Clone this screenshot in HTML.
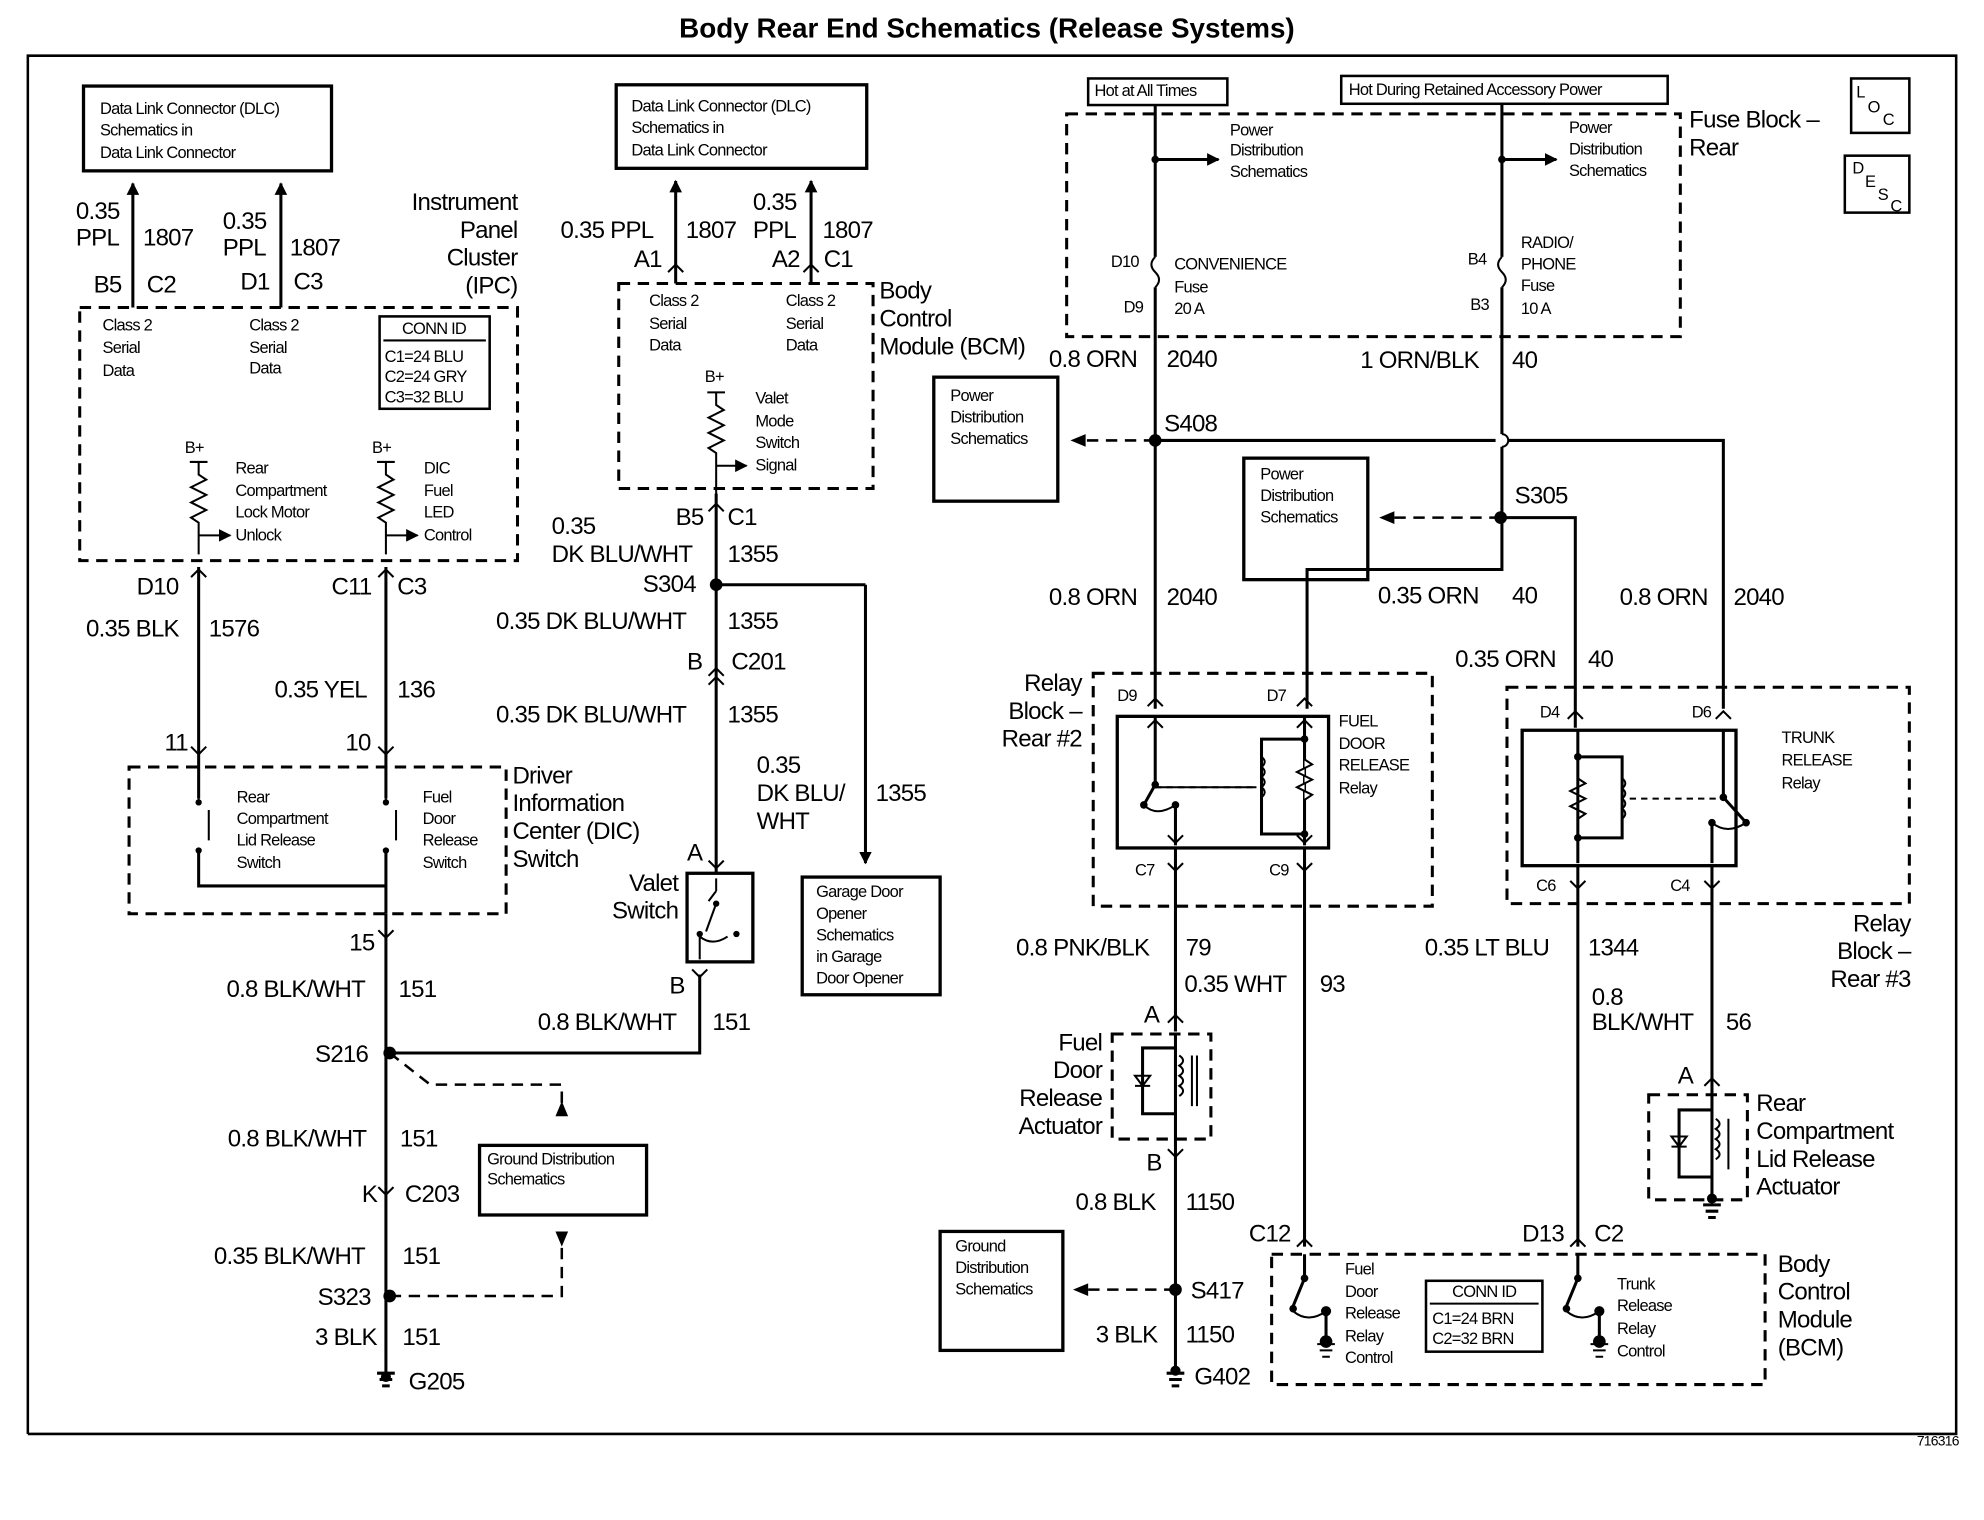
<!DOCTYPE html>
<html><head><meta charset="utf-8"><style>
html,body{margin:0;padding:0;background:#fff}
svg{display:block}
text{font-family:"Liberation Sans",sans-serif;fill:#000;dominant-baseline:central}
.L{font-size:19px;letter-spacing:-0.6px}
.S{font-size:13px;letter-spacing:-0.6px}
.r{text-anchor:end}
.ln{stroke:#000;stroke-width:2.4;fill:none}
.th{stroke:#000;stroke-width:1.6;fill:none}
.da{stroke:#000;stroke-width:2.4;fill:none;stroke-dasharray:9,6}
.box{stroke:#000;stroke-width:2.6;fill:none}
</style></head><body>
<svg width="1984" height="1520" viewBox="0 0 1568 1201" preserveAspectRatio="none" xmlns="http://www.w3.org/2000/svg">
<defs>
<marker id="ar" markerWidth="10" markerHeight="10" refX="9" refY="5" orient="auto" markerUnits="userSpaceOnUse"><path d="M0,0 L10,5 L0,10 z" fill="#000"/></marker>
<marker id="op" markerWidth="12" markerHeight="12" refX="6" refY="1" orient="auto-start-reverse" markerUnits="userSpaceOnUse"><path d="M1,9 L6,1 L11,9" fill="none" stroke="#000" stroke-width="1.6"/></marker>
</defs>
<rect width="1568" height="1201" fill="#fff"/>
<text x="780" y="22" style="font-size:22px;font-weight:bold;text-anchor:middle">Body Rear End Schematics (Release Systems)</text>
<polyline class="th" points="22,1133 22,44 1546,44 1546,1133 22,1133" style="stroke-width:2"/>
<text x="1548" y="1138" class="S r" style="font-size:11px">716316</text>

<!-- LEFT DLC -->
<rect x="66" y="68" width="196" height="67" class="box"/>
<text x="79" y="86" class="S">Data Link Connector (DLC)</text>
<text x="79" y="103" class="S">Schematics in</text>
<text x="79" y="121" class="S">Data Link Connector</text>
<line x1="105" y1="243" x2="105" y2="145" class="ln" marker-end="url(#ar)"/>
<line x1="222" y1="243" x2="222" y2="145" class="ln" marker-end="url(#ar)"/>
<text x="60" y="167" class="L">0.35</text><text x="60" y="188" class="L">PPL</text><text x="113" y="188" class="L">1807</text>
<text x="176" y="175" class="L">0.35</text><text x="176" y="196" class="L">PPL</text><text x="229" y="196" class="L">1807</text>
<text x="74" y="225" class="L">B5</text><text x="116" y="225" class="L">C2</text>
<text x="190" y="223" class="L">D1</text><text x="232" y="223" class="L">C3</text>
<text x="409" y="160" class="L r">Instrument</text><text x="409" y="182" class="L r">Panel</text><text x="409" y="204" class="L r">Cluster</text><text x="409" y="226" class="L r">(IPC)</text>
<rect x="63" y="243" width="346" height="200" class="da"/>
<text x="81" y="257" class="S">Class 2</text><text x="81" y="275" class="S">Serial</text><text x="81" y="293" class="S">Data</text>
<text x="197" y="257" class="S">Class 2</text><text x="197" y="275" class="S">Serial</text><text x="197" y="291" class="S">Data</text>
<rect x="300" y="250" width="87" height="73" class="box" style="stroke-width:2"/>
<text x="343" y="260" class="S" style="text-anchor:middle">CONN ID</text><line x1="303" y1="269" x2="384" y2="269" class="th"/>
<text x="304" y="282" class="S">C1=24 BLU</text><text x="304" y="298" class="S">C2=24 GRY</text><text x="304" y="314" class="S">C3=32 BLU</text>
<text x="146" y="354" class="S">B+</text><text x="294" y="354" class="S">B+</text>
<path class="th" d="M150,365 h14 M157,365 v10 l6,4 -12,6 12,6 -12,6 12,6 -12,6 6,4 v25"/>
<path class="th" d="M298,365 h14 M305,365 v10 l6,4 -12,6 12,6 -12,6 12,6 -12,6 6,4 v25"/>
<line x1="157" y1="423" x2="182" y2="423" class="th" marker-end="url(#ar)"/>
<line x1="305" y1="423" x2="330" y2="423" class="th" marker-end="url(#ar)"/>
<text x="186" y="370" class="S">Rear</text><text x="186" y="388" class="S">Compartment</text><text x="186" y="405" class="S">Lock Motor</text><text x="186" y="423" class="S">Unlock</text>
<text x="335" y="370" class="S">DIC</text><text x="335" y="388" class="S">Fuel</text><text x="335" y="405" class="S">LED</text><text x="335" y="423" class="S">Control</text>
<line x1="157" y1="448" x2="157" y2="606" class="ln"/><line x1="305" y1="448" x2="305" y2="606" class="ln"/>
<path class="th" d="M151,456 l6,-6 6,6 M299,456 l6,-6 6,6 M151,590 l6,6 6,-6 M299,590 l6,6 6,-6"/>
<text x="108" y="464" class="L">D10</text><text x="262" y="464" class="L">C11</text><text x="314" y="464" class="L">C3</text>
<text x="68" y="497" class="L">0.35 BLK</text><text x="165" y="497" class="L">1576</text>
<text x="217" y="545" class="L">0.35 YEL</text><text x="314" y="545" class="L">136</text>
<text x="130" y="587" class="L">11</text><text x="273" y="587" class="L">10</text>
<rect x="102" y="606" width="298" height="116" class="da"/>
<path class="ln" d="M157,606 v25 M157,672 v28 h148 v-28 M305,606 v25 M305,700 v22"/>
<path class="th" d="M165,640 v24 M313,640 v24 M157,631 v3 M305,631 v3"/>
<circle cx="157" cy="634" r="2.5"/><circle cx="157" cy="672" r="2.5"/><circle cx="305" cy="634" r="2.5"/><circle cx="305" cy="672" r="2.5"/>
<text x="187" y="630" class="S">Rear</text><text x="187" y="647" class="S">Compartment</text><text x="187" y="664" class="S">Lid Release</text><text x="187" y="682" class="S">Switch</text>
<text x="334" y="630" class="S">Fuel</text><text x="334" y="647" class="S">Door</text><text x="334" y="664" class="S">Release</text><text x="334" y="682" class="S">Switch</text>
<text x="405" y="613" class="L">Driver</text><text x="405" y="635" class="L">Information</text><text x="405" y="657" class="L">Center (DIC)</text><text x="405" y="679" class="L">Switch</text>
<line x1="305" y1="722" x2="305" y2="1085" class="ln"/>
<path class="th" d="M299,735 l6,6 6,-6 M299,938 l6,6 6,-6"/>
<text x="276" y="745" class="L">15</text>
<text x="179" y="782" class="L">0.8 BLK/WHT</text><text x="315" y="782" class="L">151</text>
<text x="249" y="833" class="L">S216</text><circle cx="308" cy="832" r="5"/>
<text x="180" y="900" class="L">0.8 BLK/WHT</text><text x="316" y="900" class="L">151</text>
<text x="286" y="944" class="L">K</text><text x="320" y="944" class="L">C203</text>
<text x="169" y="993" class="L">0.35 BLK/WHT</text><text x="318" y="993" class="L">151</text>
<text x="251" y="1025" class="L">S323</text><circle cx="308" cy="1024" r="5"/>
<text x="249" y="1057" class="L">3 BLK</text><text x="318" y="1057" class="L">151</text>
<path class="ln" d="M298,1085 h14 M300,1090 h10 M302,1095 h6"/><circle cx="305" cy="1088" r="4"/>
<text x="323" y="1092" class="L">G205</text>
<path class="ln" d="M308,832 H553 V770"/>
<path class="da" d="M308,832 L340,857 H444 V880" style="stroke-width:2"/>
<path d="M439,882 l5,-12 5,12z"/>
<rect x="379" y="905" width="132" height="55" class="box"/>
<text x="385" y="916" class="S">Ground Distribution</text><text x="385" y="932" class="S">Schematics</text>
<path class="da" d="M308,1024 H444 V985" style="stroke-width:2"/>
<path d="M439,973 l5,12 5,-12z"/>

<!-- MIDDLE -->
<rect x="487" y="67" width="198" height="66" class="box"/>
<text x="499" y="84" class="S">Data Link Connector (DLC)</text><text x="499" y="101" class="S">Schematics in</text><text x="499" y="119" class="S">Data Link Connector</text>
<line x1="534" y1="224" x2="534" y2="143" class="ln" marker-end="url(#ar)"/>
<line x1="641" y1="224" x2="641" y2="143" class="ln" marker-end="url(#ar)"/>
<path class="th" d="M528,215 l6,-6 6,6 M635,215 l6,-6 6,6"/>
<text x="443" y="182" class="L">0.35 PPL</text><text x="542" y="182" class="L">1807</text>
<text x="595" y="160" class="L">0.35</text><text x="595" y="182" class="L">PPL</text><text x="650" y="182" class="L">1807</text>
<text x="501" y="205" class="L">A1</text><text x="610" y="205" class="L">A2</text><text x="651" y="205" class="L">C1</text>
<rect x="489" y="224" width="201" height="162" class="da"/>
<text x="695" y="230" class="L">Body</text><text x="695" y="252" class="L">Control</text><text x="695" y="274" class="L">Module (BCM)</text>
<text x="513" y="238" class="S">Class 2</text><text x="513" y="256" class="S">Serial</text><text x="513" y="273" class="S">Data</text>
<text x="621" y="238" class="S">Class 2</text><text x="621" y="256" class="S">Serial</text><text x="621" y="273" class="S">Data</text>
<text x="557" y="298" class="S">B+</text>
<path class="th" d="M559,310 h14 M566,310 v10 l6,4 -12,6 12,6 -12,6 12,6 -12,6 6,4 v40"/>
<line x1="566" y1="368" x2="590" y2="368" class="th" marker-end="url(#ar)"/>
<text x="597" y="315" class="S">Valet</text><text x="597" y="333" class="S">Mode</text><text x="597" y="350" class="S">Switch</text><text x="597" y="368" class="S">Signal</text>
<line x1="566" y1="390" x2="566" y2="690" class="ln"/>
<path class="th" d="M560,404 l6,-6 6,6 M560,534 l6,-6 6,6 M560,541 l6,-6 6,6 M560,680 l6,6 6,-6"/>
<text x="436" y="416" class="L">0.35</text><text x="436" y="438" class="L">DK BLU/WHT</text>
<text x="534" y="409" class="L">B5</text><text x="575" y="409" class="L">C1</text><text x="575" y="438" class="L">1355</text>
<text x="508" y="462" class="L">S304</text><circle cx="566" cy="462" r="5"/>
<line x1="566" y1="462" x2="684" y2="462" class="ln"/><line x1="684" y1="462" x2="684" y2="682" class="ln" marker-end="url(#ar)"/>
<text x="392" y="491" class="L">0.35 DK BLU/WHT</text><text x="575" y="491" class="L">1355</text>
<text x="543" y="523" class="L">B</text><text x="578" y="523" class="L">C201</text>
<text x="392" y="565" class="L">0.35 DK BLU/WHT</text><text x="575" y="565" class="L">1355</text>
<text x="598" y="605" class="L">0.35</text><text x="598" y="627" class="L">DK BLU/</text><text x="598" y="649" class="L">WHT</text><text x="692" y="627" class="L">1355</text>
<rect x="543" y="690" width="52" height="70" class="box"/>
<path class="th" d="M566,694 v10 M560,712 l6,-8 M566,714 l-8,22 M553,738 v20 M553,740 q10,8 22,0"/>
<circle cx="566" cy="714" r="2.5"/><circle cx="553" cy="738" r="2.5"/><circle cx="582" cy="738" r="2.5"/>
<path class="th" d="M547,766 l6,6 6,-6"/>
<text x="536" y="698" class="L r">Valet</text><text x="536" y="720" class="L r">Switch</text>
<text x="543" y="674" class="L">A</text><text x="529" y="779" class="L">B</text>
<text x="425" y="808" class="L">0.8 BLK/WHT</text><text x="563" y="808" class="L">151</text>
<rect x="634" y="693" width="109" height="93" class="box"/>
<text x="645" y="705" class="S">Garage Door</text><text x="645" y="722" class="S">Opener</text><text x="645" y="739" class="S">Schematics</text><text x="645" y="756" class="S">in Garage</text><text x="645" y="773" class="S">Door Opener</text>

<!-- RIGHT TOP -->
<rect x="860" y="62" width="110" height="21" class="box" style="stroke-width:2"/><text x="865" y="72" class="S">Hot at All Times</text>
<rect x="1060" y="60" width="258" height="22" class="box" style="stroke-width:2"/><text x="1066" y="71" class="S">Hot During Retained Accessory Power</text>
<rect x="843" y="90" width="485" height="176" class="da"/>
<text x="1335" y="95" class="L">Fuse Block –</text><text x="1335" y="117" class="L">Rear</text>
<rect x="1463" y="62" width="46" height="43" class="box" style="stroke-width:2"/>
<text x="1467" y="73" class="S">L</text><text x="1476" y="85" class="S">O</text><text x="1488" y="95" class="S">C</text>
<rect x="1458" y="123" width="51" height="45" class="box" style="stroke-width:2"/>
<text x="1464" y="133" class="S">D</text><text x="1474" y="144" class="S">E</text><text x="1484" y="154" class="S">S</text><text x="1494" y="163" class="S">C</text>
<path class="ln" d="M913,83 V203 M913,227 V560"/>
<path class="th" d="M913,203 q-6,6 0,12 q6,6 0,12"/>
<path class="ln" d="M1187,82 V203 M1187,227 V343 M1187,353 V408"/>
<path class="th" d="M1187,203 q-6,6 0,12 q6,6 0,12 M1187,343 a5,5 0 0 1 0,10"/>
<circle cx="913" cy="126" r="3"/><circle cx="1187" cy="126" r="3"/>
<line x1="913" y1="126" x2="963" y2="126" class="ln" marker-end="url(#ar)"/>
<line x1="1187" y1="126" x2="1230" y2="126" class="ln" marker-end="url(#ar)"/>
<text x="972" y="103" class="S">Power</text><text x="972" y="119" class="S">Distribution</text><text x="972" y="136" class="S">Schematics</text>
<text x="1240" y="101" class="S">Power</text><text x="1240" y="118" class="S">Distribution</text><text x="1240" y="135" class="S">Schematics</text>
<text x="878" y="207" class="S">D10</text><text x="888" y="243" class="S">D9</text>
<text x="928" y="209" class="S">CONVENIENCE</text><text x="928" y="227" class="S">Fuse</text><text x="928" y="244" class="S">20 A</text>
<text x="1160" y="205" class="S">B4</text><text x="1162" y="241" class="S">B3</text>
<text x="1202" y="192" class="S">RADIO/</text><text x="1202" y="209" class="S">PHONE</text><text x="1202" y="226" class="S">Fuse</text><text x="1202" y="244" class="S">10 A</text>
<text x="829" y="284" class="L">0.8 ORN</text><text x="922" y="284" class="L">2040</text>
<text x="1075" y="285" class="L">1 ORN/BLK</text><text x="1195" y="285" class="L">40</text>
<text x="920" y="335" class="L">S408</text><circle cx="913" cy="348" r="5"/>
<path class="ln" d="M913,348 H1182 M1192,348 H1362 V560"/>
<path class="da" d="M913,348 H858" style="stroke-width:2"/><path d="M846,348 l12,-5 v10z"/>
<rect x="738" y="298" width="98" height="98" class="box"/>
<text x="751" y="313" class="S">Power</text><text x="751" y="330" class="S">Distribution</text><text x="751" y="347" class="S">Schematics</text>
<rect x="983" y="362" width="98" height="96" class="box"/>
<text x="996" y="375" class="S">Power</text><text x="996" y="392" class="S">Distribution</text><text x="996" y="409" class="S">Schematics</text>
<text x="1197" y="392" class="L">S305</text><circle cx="1186" cy="409" r="5"/>
<path class="da" d="M1186,409 H1102" style="stroke-width:2"/><path d="M1090,409 l12,-5 v10z"/>
<path class="ln" d="M1186,409 H1245 V575 M1187,409 V450 H1033 V560"/>
<text x="829" y="472" class="L">0.8 ORN</text><text x="922" y="472" class="L">2040</text>
<text x="1089" y="471" class="L">0.35 ORN</text><text x="1195" y="471" class="L">40</text>
<text x="1280" y="472" class="L">0.8 ORN</text><text x="1370" y="472" class="L">2040</text>
<text x="1150" y="521" class="L">0.35 ORN</text><text x="1255" y="521" class="L">40</text>

<!-- Relay block 2 -->
<rect x="864" y="532" width="268" height="184" class="da"/>
<text x="855" y="540" class="L r">Relay</text><text x="855" y="562" class="L r">Block –</text><text x="855" y="584" class="L r">Rear #2</text>
<rect x="883" y="566" width="167" height="104" class="box"/>
<path class="th" d="M907,558 l6,-6 6,6 M1025,558 l6,-6 6,6 M923,682 l6,6 6,-6 M1025,682 l6,6 6,-6"/>
<path class="ln" d="M913,566 V620 M913,620 L904,636 M929,636 V668 M1031,566 V668 M1031,584 H997 V659 H1031"/>
<path class="th" d="M907,575 l6,-6 6,6 M1025,575 l6,-6 6,6 M923,660 l6,6 6,-6 M1025,660 l6,6 6,-6 M913,622 H993 M904,636 q10,10 25,0"/>
<path class="th" style="stroke-dasharray:5,4" d="M913,622 H993"/>
<path class="th" d="M997,598 q5,4 0,8 q5,4 0,8 q5,4 0,8 q5,4 0,8"/>
<path class="th" d="M1031,600 l6,4 -12,6 12,6 -12,6 12,6 -6,4" style="fill:#fff"/>
<circle cx="913" cy="620" r="3"/><circle cx="904" cy="636" r="3"/><circle cx="929" cy="636" r="3"/><circle cx="1031" cy="584" r="3"/><circle cx="1031" cy="659" r="3"/>
<text x="883" y="550" class="S">D9</text><text x="1001" y="550" class="S">D7</text>
<text x="897" y="688" class="S">C7</text><text x="1003" y="688" class="S">C9</text>
<text x="1058" y="570" class="S">FUEL</text><text x="1058" y="588" class="S">DOOR</text><text x="1058" y="605" class="S">RELEASE</text><text x="1058" y="623" class="S">Relay</text>

<!-- Relay block 3 -->
<rect x="1191" y="543" width="318" height="171" class="da"/>
<rect x="1203" y="577" width="169" height="107" class="box"/>
<path class="th" d="M1239,568 l6,-6 6,6 M1356,568 l6,-6 6,6 M1241,696 l6,6 6,-6 M1347,696 l6,6 6,-6"/>
<path class="ln" d="M1247,577 V682 M1247,598 H1282 V662 H1247 M1362,577 V630 L1380,650 M1353,650 V682"/>
<path class="th" d="M1247,615 l6,4 -12,6 12,6 -12,6 12,6 -6,4 M1282,615 q5,4 0,8 q5,4 0,8 q5,4 0,8 q5,4 0,8 M1353,650 q12,10 27,0"/>
<path class="th" style="stroke-dasharray:5,4" d="M1288,631 H1362"/>
<circle cx="1247" cy="598" r="3"/><circle cx="1247" cy="662" r="3"/><circle cx="1362" cy="630" r="3"/><circle cx="1380" cy="650" r="3"/><circle cx="1353" cy="650" r="3"/>
<text x="1217" y="563" class="S">D4</text><text x="1337" y="563" class="S">D6</text>
<text x="1214" y="700" class="S">C6</text><text x="1320" y="700" class="S">C4</text>
<text x="1408" y="583" class="S">TRUNK</text><text x="1408" y="601" class="S">RELEASE</text><text x="1408" y="619" class="S">Relay</text>
<text x="1510" y="730" class="L r">Relay</text><text x="1510" y="752" class="L r">Block –</text><text x="1510" y="774" class="L r">Rear #3</text>

<!-- lower right wires -->
<path class="ln" d="M929,670 V815 M1031,670 V985 M1247,684 V985 M1353,684 V865"/>
<path class="th" d="M923,808 l6,-6 6,6 M1347,858 l6,-6 6,6 M1025,985 l6,-6 6,6 M1241,985 l6,-6 6,6"/>
<text x="803" y="749" class="L">0.8 PNK/BLK</text><text x="937" y="749" class="L">79</text>
<text x="936" y="778" class="L">0.35 WHT</text><text x="1043" y="778" class="L">93</text>
<text x="1126" y="749" class="L">0.35 LT BLU</text><text x="1255" y="749" class="L">1344</text>
<text x="1258" y="788" class="L">0.8</text><text x="1258" y="808" class="L">BLK/WHT</text><text x="1364" y="808" class="L">56</text>
<rect x="879" y="817" width="78" height="83" class="da"/>
<path class="ln" d="M929,817 V900 M929,828 H903 V880 H929"/>
<path class="th" d="M897,858 h12 M903,858 l-6,-8 h12z M932,834 q6,4 0,8 q6,4 0,8 q6,4 0,8 q6,4 0,8 M942,834 v40 M946,834 v40"/>
<text x="904" y="802" class="L">A</text><text x="906" y="919" class="L">B</text>
<text x="871" y="824" class="L r">Fuel</text><text x="871" y="846" class="L r">Door</text><text x="871" y="868" class="L r">Release</text><text x="871" y="890" class="L r">Actuator</text>
<line x1="929" y1="900" x2="929" y2="1082" class="ln"/>
<path class="th" d="M923,908 l6,6 6,-6"/>
<text x="850" y="950" class="L">0.8 BLK</text><text x="937" y="950" class="L">1150</text>
<text x="941" y="1020" class="L">S417</text><circle cx="929" cy="1019" r="5"/>
<path class="da" d="M929,1019 H860" style="stroke-width:2"/><path d="M848,1019 l12,-5 v10z"/>
<rect x="743" y="973" width="97" height="94" class="box"/>
<text x="755" y="985" class="S">Ground</text><text x="755" y="1002" class="S">Distribution</text><text x="755" y="1019" class="S">Schematics</text>
<text x="866" y="1055" class="L">3 BLK</text><text x="937" y="1055" class="L">1150</text>
<path class="ln" d="M922,1085 h14 M924,1090 h10 M926,1095 h6"/><circle cx="929" cy="1083" r="4"/>
<text x="944" y="1088" class="L">G402</text>
<rect x="1303" y="865" width="78" height="83" class="da"/>
<path class="ln" d="M1353,865 V950 M1353,877 H1327 V930 H1353"/>
<path class="th" d="M1321,906 h12 M1327,906 l-6,-8 h12z M1356,884 q6,4 0,8 q6,4 0,8 q6,4 0,8 q6,4 0,8 M1366,884 v40"/>
<circle cx="1353" cy="947" r="4"/><path class="ln" d="M1346,952 h14 M1348,957 h10 M1350,962 h6"/>
<text x="1326" y="850" class="L">A</text>
<text x="1388" y="872" class="L">Rear</text><text x="1388" y="894" class="L">Compartment</text><text x="1388" y="916" class="L">Lid Release</text><text x="1388" y="938" class="L">Actuator</text>

<!-- BCM lower -->
<rect x="1005" y="991" width="390" height="103" class="da"/>
<text x="987" y="975" class="L">C12</text><text x="1203" y="975" class="L">D13</text><text x="1260" y="975" class="L">C2</text>
<text x="1405" y="999" class="L">Body</text><text x="1405" y="1021" class="L">Control</text><text x="1405" y="1043" class="L">Module</text><text x="1405" y="1065" class="L">(BCM)</text>
<path class="ln" d="M1031,991 V1010 L1022,1032 M1048,1036 V1060 M1247,991 V1010 L1238,1032 M1264,1036 V1060"/>
<path class="th" d="M1022,1036 q12,10 26,0 M1238,1036 q12,10 26,0 M1041,1062 h14 M1043,1067 h10 M1045,1072 h6 M1257,1062 h14 M1259,1067 h10 M1261,1072 h6"/>
<circle cx="1031" cy="1010" r="3"/><circle cx="1022" cy="1034" r="3"/><circle cx="1048" cy="1036" r="4"/><circle cx="1048" cy="1060" r="5"/>
<circle cx="1247" cy="1010" r="3"/><circle cx="1238" cy="1034" r="3"/><circle cx="1264" cy="1036" r="4"/><circle cx="1264" cy="1060" r="5"/>
<text x="1063" y="1003" class="S">Fuel</text><text x="1063" y="1021" class="S">Door</text><text x="1063" y="1038" class="S">Release</text><text x="1063" y="1056" class="S">Relay</text><text x="1063" y="1073" class="S">Control</text>
<rect x="1127" y="1012" width="92" height="56" class="box" style="stroke-width:2"/>
<text x="1173" y="1021" class="S" style="text-anchor:middle">CONN ID</text><line x1="1130" y1="1030" x2="1216" y2="1030" class="th"/>
<text x="1132" y="1042" class="S">C1=24 BRN</text><text x="1132" y="1058" class="S">C2=32 BRN</text>
<text x="1278" y="1015" class="S">Trunk</text><text x="1278" y="1032" class="S">Release</text><text x="1278" y="1050" class="S">Relay</text><text x="1278" y="1068" class="S">Control</text>
</svg>
</body></html>
